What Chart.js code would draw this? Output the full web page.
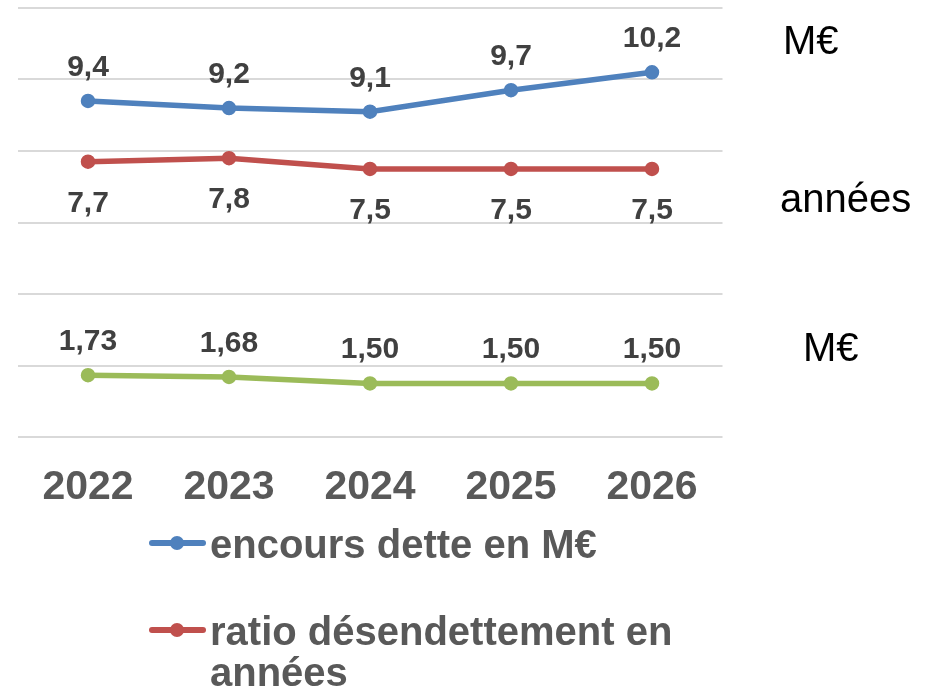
<!DOCTYPE html>
<html>
<head>
<meta charset="utf-8">
<script src="https://cdn.jsdelivr.net/npm/chart.js@4.4.1/dist/chart.umd.min.js"></script>
<style>
  html, body { margin: 0; padding: 0; background: #fff; }
  body { width: 926px; height: 691px; position: relative; overflow: hidden; font-family: "Liberation Sans", Arial, sans-serif; }
  #wrap { position: absolute; left: 0; top: 0; width: 926px; height: 530px; }
  .unit { position: absolute; font-size: 40px; line-height: 40px; color: #000; white-space: nowrap; }
  #legend { position: absolute; left: 149px; top: 524px; }
  .item { display: flex; align-items: flex-start; margin-bottom: 46px; }
  .mk { position: relative; width: 57px; height: 41px; flex: none; margin-right: 4px; }
  .mk .ln { position: absolute; left: 0; right: 0; top: 16px; height: 6px; border-radius: 3px; }
  .mk .dot { position: absolute; left: 21px; top: 12px; width: 14px; height: 14px; border-radius: 50%; }
  .tx { font-weight: bold; font-size: 40px; line-height: 41px; color: #595959; width: 500px; }
</style>
</head>
<body>
<div id="wrap"><canvas id="chart"></canvas></div>
<div class="unit" style="left:783px; top:20px;">M€</div>
<div class="unit" style="left:780px; top:178px;">années</div>
<div class="unit" style="left:803px; top:327px;">M€</div>
<div id="legend"></div>
<script>
// années
const years = ['2022', '2023', '2024', '2025', '2026'];
// encours de la dette (M€)
const encoursDette = [9.4, 9.2, 9.1, 9.7, 10.2];
// ratio de désendettement (années)
const ratioDesendettement = [7.7, 7.8, 7.5, 7.5, 7.5];
// troisième série (M€)
const annuite = [1.73, 1.68, 1.50, 1.50, 1.50];

const FONT = '"Liberation Sans", Arial, sans-serif';

// étiquettes de valeurs au-dessus / au-dessous des points
const valueLabels = {
  id: 'valueLabels',
  afterDatasetsDraw(chart) {
    const { ctx } = chart;
    ctx.save();
    ctx.font = `bold 30px ${FONT}`;
    ctx.fillStyle = '#404040';
    ctx.textAlign = 'center';
    ctx.textBaseline = 'alphabetic';
    chart.data.datasets.forEach((ds, i) => {
      const meta = chart.getDatasetMeta(i);
      meta.data.forEach((pt, j) => {
        const txt = ds.data[j].toFixed(ds.decimals).replace('.', ',');
        const y = ds.labelPos === 'below' ? pt.y + 50 : pt.y - 25;
        ctx.fillText(txt, pt.x, y);
      });
    });
    ctx.restore();
  }
};

const line = (label, data, color, decimals, labelPos) => ({
  label, data, decimals, labelPos,
  borderColor: color, backgroundColor: color,
  pointBackgroundColor: color, pointBorderColor: color,
  borderWidth: 5.5, pointRadius: 6.5, pointBorderWidth: 1.5,
  tension: 0
});

const chart = new Chart(document.getElementById('chart'), {
  type: 'line',
  data: {
    labels: years,
    datasets: [
      line('encours dette en M€', encoursDette, '#4F81BD', 1, 'above'),
      line('ratio désendettement en années', ratioDesendettement, '#C0504D', 1, 'below'),
      line('annuité en M€', annuite, '#9BBB59', 2, 'above')
    ]
  },
  options: {
    responsive: true, maintainAspectRatio: false,
    animation: false,
    layout: { padding: { left: 17.5, right: 203.5, top: 7, bottom: 0 } },
    scales: {
      x: {
        offset: true,
        grid: { display: false, drawTicks: false, offset: true },
        border: { display: false },
        ticks: { color: '#595959', padding: 26, font: { family: FONT, size: 41, weight: 'bold', lineHeight: 1.2 } },
        afterFit(s) { s.height = 93; }
      },
      y: {
        min: 0, max: 12,
        grid: { color: '#d9d9d9', lineWidth: 2, drawTicks: false },
        border: { display: false },
        ticks: { display: false, stepSize: 2 },
        afterFit(s) { s.width = 0; }
      }
    },
    plugins: { legend: { display: false }, tooltip: { enabled: false } }
  },
  plugins: [valueLabels]
});

// légende HTML (retour à la ligne comme l'original)
const legendEl = document.getElementById('legend');
chart.data.datasets.slice(0, 2).forEach(ds => {
  const item = document.createElement('div');
  item.className = 'item';
  item.innerHTML = `<span class="mk"><i class="ln" style="background:${ds.borderColor}"></i>` +
    `<i class="dot" style="background:${ds.borderColor}"></i></span><span class="tx">${ds.label}</span>`;
  legendEl.appendChild(item);
});
</script>
</body>
</html>
